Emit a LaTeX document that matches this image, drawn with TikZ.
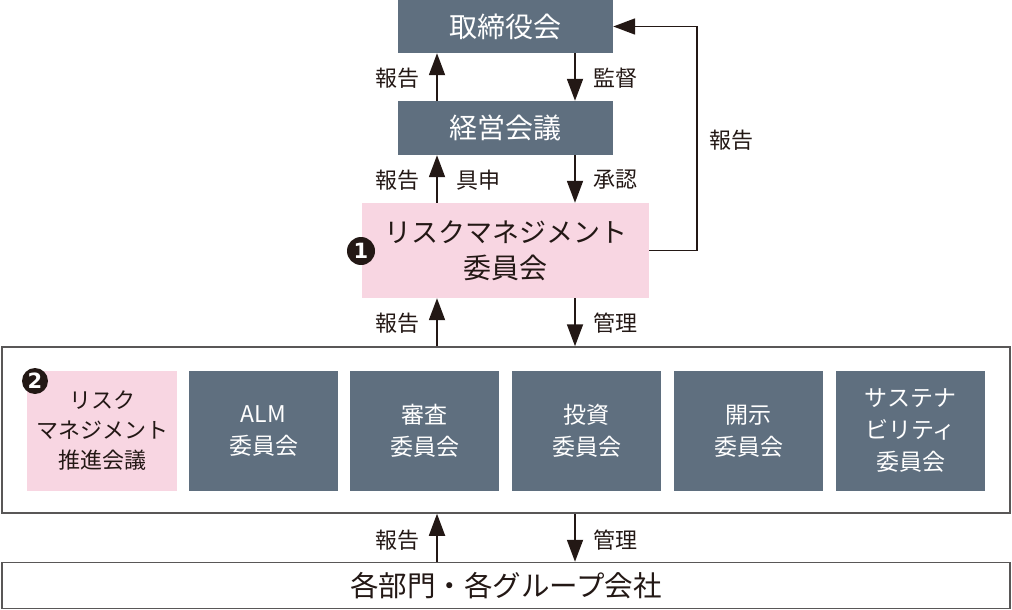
\documentclass[tikz,border=0pt]{standalone}
\usepackage{fontspec}
\setmainfont{Noto Sans CJK JP}
\newfontfamily\numfont{DejaVu Sans}
\usetikzlibrary{arrows.meta}
\definecolor{slate}{HTML}{5F6F7F}
\definecolor{pinkbg}{HTML}{F8D6E2}
\definecolor{ink}{HTML}{231815}
\definecolor{frame}{HTML}{595757}
\tikzset{
  darkbox/.style={fill=slate, draw=none, text=white, inner sep=0pt, align=center},
  pinkbox/.style={fill=pinkbg, draw=none, text=ink, inner sep=0pt, align=center},
  framebox/.style={draw=frame, line width=1.5pt, fill=white, inner sep=0pt},
  arr/.style={-{Triangle[length=22pt,width=16pt]}, line width=1.8pt, draw=ink},
  lbl/.style={text=ink, font=\fontsize{22}{26}\selectfont, inner sep=0pt},
  bignum/.style={circle, fill=ink, text=white, inner sep=0pt, font=\numfont\bfseries\fontsize{21}{21}\selectfont},
}
\begin{document}
\begin{tikzpicture}[x=1pt,y=-1pt]
\useasboundingbox (0,0) rectangle (1012,610);
% top boxes
\node[darkbox, minimum width=215pt, minimum height=53pt, font=\fontsize{28}{32}\selectfont] (board) at (505.5,26.5) {取締役会};
\node[darkbox, minimum width=215pt, minimum height=54pt, font=\fontsize{28}{32}\selectfont] (mgmt) at (505.5,128) {経営会議};
\node[pinkbox, minimum width=287pt, minimum height=95pt, font=\fontsize{27}{36}\selectfont] (rm) at (505.5,250.5) {リスクマネジメント\\\fontsize{28}{36}\selectfont 委員会};
\node[bignum, minimum size=28pt] (n1) at (361,251) {1};
% big frame
\node[framebox, minimum width=1008pt, minimum height=166pt] (frame) at (506,430) {};
\node[pinkbox, minimum width=150pt, minimum height=120pt, font=\fontsize{22}{30}\selectfont] (rmp) at (102,431) {リスク\\マネジメント\\推進会議};
\node[bignum, minimum size=26pt] (n2) at (35,381) {2};
\node[darkbox, minimum width=149pt, minimum height=120pt, font=\fontsize{23}{32}\selectfont] (alm) at (263.5,431) {ALM\\委員会};
\node[darkbox, minimum width=149pt, minimum height=120pt, font=\fontsize{23}{32}\selectfont] (shinsa) at (424.5,431) {審査\\委員会};
\node[darkbox, minimum width=149pt, minimum height=120pt, font=\fontsize{23}{32}\selectfont] (toshi) at (586.5,431) {投資\\委員会};
\node[darkbox, minimum width=149pt, minimum height=120pt, font=\fontsize{23}{32}\selectfont] (kaiji) at (748.5,431) {開示\\委員会};
\node[darkbox, minimum width=149pt, minimum height=120pt, font=\fontsize{23}{32}\selectfont] (sus) at (910.5,431) {サステナ\\ビリティ\\委員会};
% bottom
\node[framebox, minimum width=1008pt, minimum height=46pt, text=ink, font=\fontsize{28.5}{32}\selectfont] (bottom) at (506,585.5) {各部門・各グループ会社};
% arrows
\draw[arr] ([xshift=-68.5pt]mgmt.north) -- ([xshift=-68.5pt]board.south);
\draw[arr] ([xshift=69.5pt]board.south) -- ([xshift=69.5pt]mgmt.north);
\draw[arr] ([xshift=-68.5pt]rm.north) -- ([xshift=-68.5pt]mgmt.south);
\draw[arr] ([xshift=69.5pt]mgmt.south) -- ([xshift=69.5pt]rm.north);
\draw[arr] (rm.east) -- ++(48pt,0) coordinate (fb) |- (board.east);
\draw[arr] ([xshift=-69pt]frame.north) -- ([xshift=-68.5pt]rm.south);
\draw[arr] ([xshift=69.5pt]rm.south) -- ([xshift=69pt]frame.north);
\draw[arr] ([xshift=-69pt]bottom.north) -- ([xshift=-69pt]frame.south);
\draw[arr] ([xshift=69pt]frame.south) -- ([xshift=69pt]bottom.north);
% labels
\node[lbl] (l1) at (397,78) {報告};
\node[lbl] (l2) at (615,78) {監督};
\node[lbl] (l3) at (397,180) {報告};
\node[lbl] (l4) at (478,180) {具申};
\node[lbl] (l5) at (615,180) {承認};
\node[lbl] (l6) at (731,140) {報告};
\node[lbl] (l7) at (397,323) {報告};
\node[lbl] (l8) at (615,323) {管理};
\node[lbl] (l9) at (397,540) {報告};
\node[lbl] (l10) at (615,540) {管理};
\end{tikzpicture}
\end{document}
